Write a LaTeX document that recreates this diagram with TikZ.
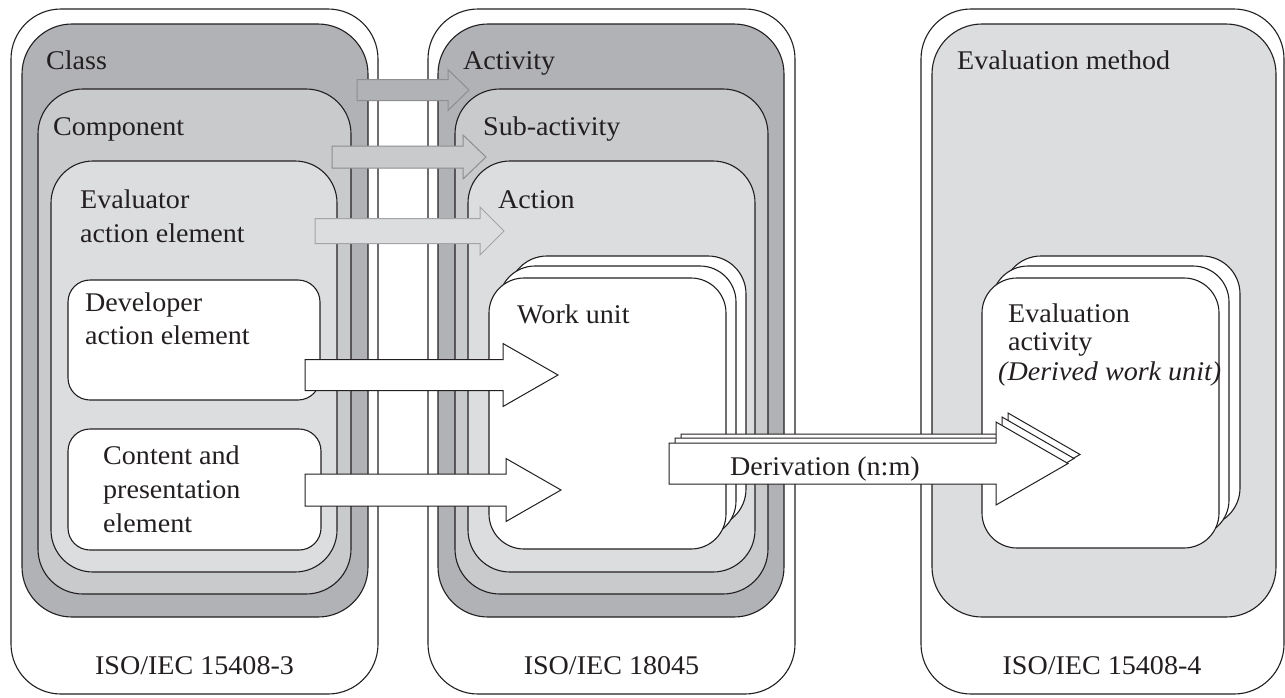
\documentclass[tikz,border=0pt]{standalone}
\usepackage{fontspec}
\setmainfont{Liberation Serif}[FakeStretch=1.04]
\definecolor{gA}{HTML}{B1B2B5}
\definecolor{gB}{HTML}{C9CACC}
\definecolor{gC}{HTML}{DCDDDF}
\definecolor{ln}{HTML}{231F20}
\definecolor{arrA}{HTML}{8E8E90}
\definecolor{arrC}{HTML}{A4A4A6}
\tikzset{
  box/.style={draw=ln, line width=1.1pt, inner sep=0pt, outer sep=0pt, anchor=north west},
  lbl/.style={anchor=base west, inner sep=0pt, font=\fontsize{27}{32}\selectfont, text=ln},
  clbl/.style={anchor=base, inner sep=0pt, font=\fontsize{27}{32}\selectfont, text=ln},
  grayarrow/.style={line width=1pt, line join=miter},
  whitearrow/.style={draw=ln, fill=white, line width=1pt, line join=miter},
}
% #1 style, #2 x start, #3 x head base, #4 x tip, #5 y centre, #6 half shaft, #7 half head
\newcommand\blockarrow[7]{%
  \draw[#1] (#2,#5-#6) -- (#3,#5-#6) -- (#3,#5-#7) -- (#4,#5) -- (#3,#5+#7) -- (#3,#5+#6) -- (#2,#5+#6) -- cycle;}
\begin{document}
\begin{tikzpicture}[x=1pt,y=-1pt]
\useasboundingbox (0,0) rectangle (1285,697);
% ---------- ISO/IEC 15408-3
\node[box, fill=white, rounded corners=50pt, minimum width=367pt, minimum height=685pt] (iso3) at (11,9) {};
\node[box, fill=gA, rounded corners=50pt, minimum width=346pt, minimum height=593pt] (class) at (22,24) {};
\node[box, fill=gB, rounded corners=45pt, minimum width=313pt, minimum height=505pt] (component) at (38,89) {};
\node[box, fill=gC, rounded corners=42pt, minimum width=286pt, minimum height=411pt] (evaluator) at (51,161) {};
\node[box, fill=white, rounded corners=22pt, minimum width=252pt, minimum height=120pt] (developer) at (68,280) {};
\node[box, fill=white, rounded corners=22pt, minimum width=253pt, minimum height=121pt] (content) at (68,429) {};
% ---------- ISO/IEC 18045
\node[box, fill=white, rounded corners=50pt, minimum width=367pt, minimum height=685pt] (iso18) at (428,9) {};
\node[box, fill=gA, rounded corners=50pt, minimum width=346pt, minimum height=593pt] (activity) at (438,24) {};
\node[box, fill=gB, rounded corners=45pt, minimum width=313pt, minimum height=505pt] (subactivity) at (455,89) {};
\node[box, fill=gC, rounded corners=42pt, minimum width=287pt, minimum height=411pt] (action) at (468,161) {};
\node[box, fill=white, rounded corners=38pt, minimum width=237pt, minimum height=271pt] (wu3) at (509,256) {};
\node[box, fill=white, rounded corners=36pt, minimum width=237pt, minimum height=271pt] (wu2) at (499,266) {};
\node[box, fill=white, rounded corners=35pt, minimum width=237pt, minimum height=271pt] (wu1) at (489,278) {};
% ---------- ISO/IEC 15408-4
\node[box, fill=white, rounded corners=50pt, minimum width=363pt, minimum height=685pt] (iso4) at (921,9) {};
\node[box, fill=gC, rounded corners=50pt, minimum width=344pt, minimum height=593pt] (method) at (932,24) {};
\node[box, fill=white, rounded corners=38pt, minimum width=237pt, minimum height=270pt] (ea3) at (1003,256) {};
\node[box, fill=white, rounded corners=36pt, minimum width=237pt, minimum height=270pt] (ea2) at (992,266) {};
\node[box, fill=white, rounded corners=35pt, minimum width=237pt, minimum height=270pt] (ea1) at (982,278) {};
% ---------- gray arrows
\blockarrow{grayarrow, fill=gA, draw=arrA}{357}{448}{469}{90}{10.5}{20.5}
\blockarrow{grayarrow, fill=gB, draw=arrA}{332}{463}{486}{157}{11}{22}
\blockarrow{grayarrow, fill=gC, draw=arrC}{315}{480}{504}{231}{12.5}{24}
% ---------- white arrows
\blockarrow{whitearrow}{305}{503}{558}{375}{15.5}{31.5}
\blockarrow{whitearrow}{305}{506}{561}{490}{16}{31.5}
% ---------- derivation arrow (stacked)
\blockarrow{whitearrow}{681}{1008}{1080}{454.5}{20.5}{41.5}
\blockarrow{whitearrow}{675}{1002}{1074}{458.5}{20.5}{41.5}
\blockarrow{whitearrow}{669}{996}{1068}{463.5}{20.5}{41.5}
% ---------- labels
\node[lbl] (tclass) at (46,69) {Class};
\node[lbl] (tcomp) at (53,135) {Component};
\node[lbl] (teval1) at (80,208) {Evaluator};
\node[lbl] (teval2) at (80,242) {action element};
\node[lbl] (tdev1) at (85,311) {Developer};
\node[lbl] (tdev2) at (85,344) {action element};
\node[lbl] (tcont1) at (103,464) {Content and};
\node[lbl] (tcont2) at (103,498) {presentation};
\node[lbl] (tcont3) at (103,532) {element};
\node[lbl] (tact) at (463,69) {Activity};
\node[lbl] (tsub) at (483,135) {Sub-activity};
\node[lbl] (taction) at (498,208) {Action};
\node[lbl] (twu) at (517,323) {Work unit};
\node[lbl] (tmeth) at (957,69) {Evaluation method};
\node[lbl] (tea1) at (1008,322) {Evaluation};
\node[lbl] (tea2) at (1008,350) {activity};
\node[lbl, font=\fontsize{27}{32}\selectfont\itshape] (tea3) at (998,380) {(Derived work unit)};
\node[lbl] (tder) at (730,475) {Derivation (n:m)};
\node[clbl] (tiso3) at (194.5,674) {ISO/IEC 15408-3};
\node[clbl] (tiso18) at (611.5,674) {ISO/IEC 18045};
\node[clbl] (tiso4) at (1102,674) {ISO/IEC 15408-4};
\end{tikzpicture}
\end{document}
